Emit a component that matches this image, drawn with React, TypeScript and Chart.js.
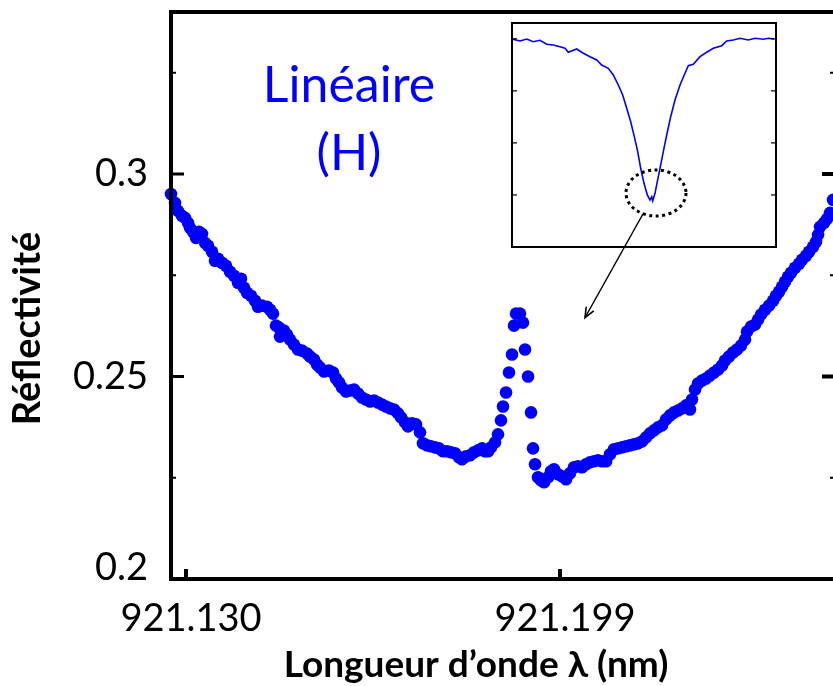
import React, { useEffect, useRef } from "react";
import { Chart, registerables } from "chart.js";

Chart.register(...registerables);

// ---------- main series: reflectivity vs wavelength ----------
const wavelengthNm = [
  921.12723, 921.12797, 921.12852, 921.12926, 921.12982, 921.13037, 921.13074, 921.13129, 921.13184, 921.1324,
  921.13295, 921.13351, 921.13406, 921.1348, 921.13535, 921.1359, 921.13664, 921.13738, 921.13812, 921.13886,
  921.13959, 921.14015, 921.1407, 921.14125, 921.14199, 921.14273, 921.14328, 921.14402, 921.14494, 921.1455,
  921.14605, 921.1466, 921.14716, 921.14734, 921.14808, 921.14863, 921.14919, 921.14992, 921.15066, 921.1514,
  921.15232, 921.15288, 921.15361, 921.15417, 921.15472, 921.15546, 921.15638, 921.15712, 921.15767, 921.15823,
  921.15878, 921.15952, 921.16026, 921.16099, 921.16173, 921.16247, 921.16321, 921.16395, 921.16468, 921.16542,
  921.16616, 921.1669, 921.16764, 921.16837, 921.16911, 921.16967, 921.1704, 921.17096, 921.17169, 921.17243,
  921.17317, 921.17372, 921.17446, 921.1752, 921.17594, 921.17668, 921.17741, 921.17815, 921.17889, 921.17963,
  921.18037, 921.18092, 921.18166, 921.1824, 921.18313, 921.18387, 921.18461, 921.18516, 921.18572, 921.18627,
  921.18701, 921.18756, 921.18811, 921.18848, 921.18904, 921.18959, 921.19014, 921.19051, 921.19088, 921.19162,
  921.19217, 921.19254, 921.1931, 921.19365, 921.19402, 921.19439, 921.19494, 921.19549, 921.19605, 921.19679,
  921.19734, 921.19789, 921.19863, 921.19937, 921.20011, 921.20084, 921.20158, 921.20232, 921.20306, 921.2038,
  921.20453, 921.20527, 921.20601, 921.20675, 921.20749, 921.20822, 921.20896, 921.2097, 921.21044, 921.21118,
  921.21191, 921.21265, 921.21339, 921.21413, 921.21487, 921.2156, 921.21634, 921.21708, 921.21782, 921.21856,
  921.21929, 921.22003, 921.22077, 921.22151, 921.22225, 921.22298, 921.22335, 921.22391, 921.22446, 921.2252,
  921.22593, 921.22667, 921.22741, 921.22815, 921.22889, 921.22944, 921.23018, 921.23092, 921.23165, 921.23239,
  921.23313, 921.2335, 921.23424, 921.23497, 921.23553, 921.23608, 921.23682, 921.23756, 921.2383, 921.23885,
  921.2394, 921.23996, 921.24051, 921.24106, 921.24162, 921.24235, 921.24309, 921.24365, 921.24438, 921.24494,
  921.24568, 921.24623, 921.2466, 921.24697, 921.24771, 921.24826, 921.24881, 921.24937,
];

const reflectivity = [
  0.29507, 0.29286, 0.29089, 0.28965, 0.28916, 0.28793, 0.2867, 0.28571, 0.28424, 0.28571,
  0.28522, 0.283, 0.28227, 0.28079, 0.27857, 0.27906, 0.27808, 0.27734, 0.27586, 0.27488,
  0.27315, 0.27414, 0.27192, 0.27069, 0.26995, 0.26872, 0.26724, 0.26749, 0.26724, 0.2665,
  0.26552, 0.26256, 0.26207, 0.25985, 0.26133, 0.26034, 0.25911, 0.25788, 0.25665, 0.2564,
  0.25566, 0.25493, 0.25419, 0.25295, 0.25222, 0.25123, 0.25148, 0.25098, 0.24951, 0.24852,
  0.24729, 0.2463, 0.24655, 0.2468, 0.24581, 0.24483, 0.24433, 0.24384, 0.24409, 0.24359,
  0.2431, 0.24261, 0.24212, 0.24187, 0.24089, 0.2399, 0.23867, 0.23768, 0.23842, 0.23818,
  0.23621, 0.2335, 0.233, 0.23276, 0.23251, 0.23226, 0.23153, 0.23153, 0.23128, 0.23103,
  0.23005, 0.22956, 0.23029, 0.23054, 0.23128, 0.23177, 0.23226, 0.23153, 0.23153, 0.23251,
  0.23374, 0.23571, 0.23916, 0.24261, 0.24606, 0.25098, 0.25542, 0.26256, 0.26552, 0.26552,
  0.2633, 0.25665, 0.25, 0.24113, 0.23226, 0.22832, 0.22512, 0.22438, 0.22389, 0.22512,
  0.2266, 0.22709, 0.22586, 0.22537, 0.22463, 0.22611, 0.22758, 0.22783, 0.22758, 0.22832,
  0.22882, 0.22906, 0.22931, 0.22906, 0.22906, 0.23079, 0.23202, 0.23226, 0.23251, 0.23276,
  0.233, 0.23325, 0.2335, 0.23399, 0.23497, 0.23596, 0.2367, 0.23744, 0.23793, 0.23941,
  0.24039, 0.24113, 0.24162, 0.24212, 0.24286, 0.24187, 0.24433, 0.2468, 0.24827, 0.24901,
  0.24951, 0.25025, 0.25098, 0.25172, 0.25271, 0.25394, 0.25493, 0.25591, 0.25665, 0.25763,
  0.25911, 0.26108, 0.26231, 0.26281, 0.26404, 0.26527, 0.2665, 0.26749, 0.26872, 0.26995,
  0.27094, 0.27217, 0.2734, 0.27463, 0.27562, 0.27685, 0.27783, 0.27882, 0.2798, 0.28079,
  0.28202, 0.28325, 0.28498, 0.28695, 0.28793, 0.28892, 0.29039, 0.2936,
];

const xTickValues = [921.13, 921.199];
const yTickValues = [0.2, 0.25, 0.3];
const yMinorTickValues = [0.225, 0.275, 0.325];

// ---------- inset: full resonance dip ----------
const insetWavelengthNm = [
  920.9014, 920.916, 920.9294, 920.9426, 920.956, 920.9694, 920.9826, 920.996, 921.006, 921.0126,
  921.0294, 921.0426, 921.056, 921.0694, 921.0794, 921.0926, 921.1026, 921.1126, 921.1214, 921.1294,
  921.1374, 921.1446, 921.1514, 921.1574, 921.164, 921.1706, 921.176, 921.1794, 921.1814, 921.186,
  921.1906, 921.196, 921.2026, 921.2094, 921.2174, 921.226, 921.236, 921.246, 921.2526, 921.2626,
  921.276, 921.2894, 921.3026, 921.3194, 921.3294, 921.3426, 921.356, 921.3726, 921.386, 921.4026,
  921.4126, 921.424,
];
const insetReflectivity = [
  0.9978, 0.9896, 0.9992, 0.9863, 0.993, 0.9738, 0.9704, 0.9622, 0.9545, 0.9353,
  0.9512, 0.9305, 0.9142, 0.8983, 0.8743, 0.8585, 0.8263, 0.7782, 0.7302, 0.6663,
  0.6019, 0.5299, 0.4578, 0.3781, 0.306, 0.2498, 0.2258, 0.2416, 0.2224, 0.258,
  0.3137, 0.3781, 0.4578, 0.538, 0.626, 0.7062, 0.7782, 0.8344, 0.871, 0.8777,
  0.9142, 0.9353, 0.9545, 0.967, 0.9896, 0.9944, 1.0026, 0.9944, 1.0026, 0.9978,
  1.0026, 0.9992,
];
const insetTickValues = [0.25, 0.5, 0.75, 1.0];
const zoomMarkCenter = [921.188, 0.2594]; // inset data coordinates
const arrowStart = [921.21431, 0.29015]; // main data coordinates
const arrowEnd = [921.20361, 0.26453];

// ---------- texts ----------
const labelPosition = [921.16007, 0.31778];
const labelLines = ["Linéaire", "(H)"];
const xTitle = "Longueur d’onde λ (nm)";
const yTitle = "Réflectivité";

const FONT = "Lato, 'Open Sans', sans-serif";
const BLUE = "#0000ff";

const mainDecor = {
  id: "mainDecor",
  afterDraw(chart: any) {
    const { ctx, chartArea: a, scales } = chart;
    const x = scales.x;
    const y = scales.y;
    ctx.save();
    ctx.fillStyle = "#000";
    yTickValues.forEach((v) => {
      const py = y.getPixelForValue(v);
      ctx.fillRect(a.left + 2, py - 1.5, 11, 3);
      ctx.fillRect(a.right - 13, py - 2, 11, 4);
    });
    yMinorTickValues.forEach((v) => {
      const py = y.getPixelForValue(v);
      ctx.fillRect(a.left + 2, py - 1, 3, 2);
      ctx.fillRect(a.right - 5, py - 1, 3, 2);
    });
    xTickValues.forEach((v) => {
      const px = x.getPixelForValue(v);
      ctx.fillRect(px - 2, a.bottom - 10, 4, 10);
    });
    ctx.lineWidth = 4;
    ctx.strokeStyle = "#000";
    ctx.strokeRect(a.left, a.top, a.right - a.left, a.bottom - a.top);

    // arrow from the zoom mark to the main plot
    const x0 = x.getPixelForValue(arrowStart[0]);
    const y0 = y.getPixelForValue(arrowStart[1]);
    const x1 = x.getPixelForValue(arrowEnd[0]);
    const y1 = y.getPixelForValue(arrowEnd[1]);
    ctx.lineWidth = 1.3;
    ctx.beginPath();
    ctx.moveTo(x0, y0);
    ctx.lineTo(x1, y1);
    ctx.stroke();
    const ang = Math.atan2(y1 - y0, x1 - x0);
    const hl = 11;
    ctx.lineWidth = 1.6;
    ctx.beginPath();
    ctx.moveTo(x1 - hl * Math.cos(ang - 0.4), y1 - hl * Math.sin(ang - 0.4));
    ctx.lineTo(x1, y1);
    ctx.lineTo(x1 - hl * Math.cos(ang + 0.4), y1 - hl * Math.sin(ang + 0.4));
    ctx.stroke();

    // annotation
    ctx.fillStyle = BLUE;
    ctx.font = `50px ${FONT}`;
    ctx.textAlign = "center";
    ctx.textBaseline = "alphabetic";
    const lx = x.getPixelForValue(labelPosition[0]);
    const ly = y.getPixelForValue(labelPosition[1]);
    labelLines.forEach((t, i) => ctx.fillText(t, lx, ly + i * 68));

    // axis titles
    ctx.fillStyle = "#000";
    ctx.font = `bold 37px ${FONT}`;
    ctx.textAlign = "center";
    ctx.fillText(xTitle, a.left + 305, a.bottom + 98);
    ctx.save();
    ctx.translate(a.left - 131, (a.top + a.bottom) / 2 + 33);
    ctx.rotate(-Math.PI / 2);
    ctx.font = `bold 38px ${FONT}`;
    ctx.fillText(yTitle, 0, 0);
    ctx.restore();
    ctx.restore();
  },
};

const insetDecor = {
  id: "insetDecor",
  afterDraw(chart: any) {
    const { ctx, chartArea: a, scales } = chart;
    const x = scales.x;
    const y = scales.y;
    ctx.save();
    ctx.fillStyle = "#000";
    insetTickValues.forEach((v) => {
      const py = y.getPixelForValue(v);
      ctx.fillRect(a.left, py - 0.6, 5, 1.2);
      ctx.fillRect(a.right - 5, py - 0.6, 5, 1.2);
    });
    ctx.lineWidth = 2;
    ctx.strokeStyle = "#000";
    ctx.strokeRect(a.left, a.top, a.right - a.left, a.bottom - a.top);
    const cx = x.getPixelForValue(zoomMarkCenter[0]);
    const cy = y.getPixelForValue(zoomMarkCenter[1]);
    ctx.lineWidth = 3;
    ctx.setLineDash([3, 3.5]);
    ctx.beginPath();
    ctx.ellipse(cx, cy, 30, 23, 0, 0, Math.PI * 2);
    ctx.stroke();
    ctx.restore();
  },
};

export default function App() {
  const mainRef = useRef<HTMLCanvasElement>(null);
  const insetRef = useRef<HTMLCanvasElement>(null);

  useEffect(() => {
    const main = new Chart(mainRef.current as HTMLCanvasElement, {
      type: "scatter",
      data: {
        datasets: [
          {
            data: wavelengthNm.map((w, i) => ({ x: w, y: reflectivity[i] })),
            pointRadius: 6.3,
            pointBackgroundColor: BLUE,
            pointBorderWidth: 0,
            backgroundColor: BLUE,
            borderColor: BLUE,
            clip: false as any,
          },
        ],
      },
      options: {
        animation: false,
        responsive: false,
        devicePixelRatio: 1,
        layout: { padding: { top: 12, right: 25, left: 0, bottom: 0 } },
        plugins: { legend: { display: false }, tooltip: { enabled: false } },
        scales: {
          x: {
            type: "linear",
            min: 921.12723,
            max: 921.24973,
            grid: { display: false },
            border: { display: false },
            afterBuildTicks: (s: any) => {
              s.ticks = xTickValues.map((v) => ({ value: v }));
            },
            afterFit: (s: any) => {
              s.height = 107;
              s.paddingLeft = 0;
              s.paddingRight = 0;
            },
            ticks: {
              autoSkip: false,
              maxRotation: 0,
              padding: 9,
              labelOffset: 5,
              color: "#000",
              font: { family: FONT, size: 38 },
              callback: (v: any) => Number(v).toFixed(3),
            },
          },
          y: {
            type: "linear",
            min: 0.2,
            max: 0.34,
            grid: { display: false },
            border: { display: false },
            afterBuildTicks: (s: any) => {
              s.ticks = yTickValues.map((v) => ({ value: v }));
            },
            afterFit: (s: any) => {
              s.width = 171;
              s.paddingTop = 0;
              s.paddingBottom = 0;
            },
            ticks: {
              padding: 15,
              color: "#000",
              // the lowest label sits a little above its tick, as in the source figure
              font: (c: any) =>
                c.index === 0
                  ? { family: FONT, size: 38, lineHeight: "22px" }
                  : { family: FONT, size: 38 },
              callback: (v: any, i: number) => (i === 0 ? [`${Number(v)}`, ""] : `${Number(v)}`),
            },
          },
        },
      } as any,
      plugins: [mainDecor],
    });

    const inset = new Chart(insetRef.current as HTMLCanvasElement, {
      type: "line",
      data: {
        datasets: [
          {
            data: insetWavelengthNm.map((w, i) => ({ x: w, y: insetReflectivity[i] })),
            borderColor: BLUE,
            borderWidth: 1.6,
            pointRadius: 0,
            tension: 0,
            fill: false,
          },
        ],
      },
      options: {
        animation: false,
        responsive: false,
        devicePixelRatio: 1,
        layout: { padding: 2 },
        plugins: { legend: { display: false }, tooltip: { enabled: false } },
        scales: {
          x: { type: "linear", display: false, min: 920.9, max: 921.428 },
          y: { type: "linear", display: false, min: 0, max: 1.076 },
        },
      } as any,
      plugins: [insetDecor],
    });

    return () => {
      main.destroy();
      inset.destroy();
    };
  }, []);

  return (
    <div
      style={{
        position: "absolute",
        left: 0,
        top: 0,
        width: 833,
        height: 686,
        overflow: "hidden",
        background: "#fff",
      }}
    >
      <canvas ref={mainRef} width={860} height={686} style={{ position: "absolute", left: 0, top: 0 }} />
      <canvas ref={insetRef} width={268} height={228} style={{ position: "absolute", left: 510, top: 21 }} />
    </div>
  );
}
